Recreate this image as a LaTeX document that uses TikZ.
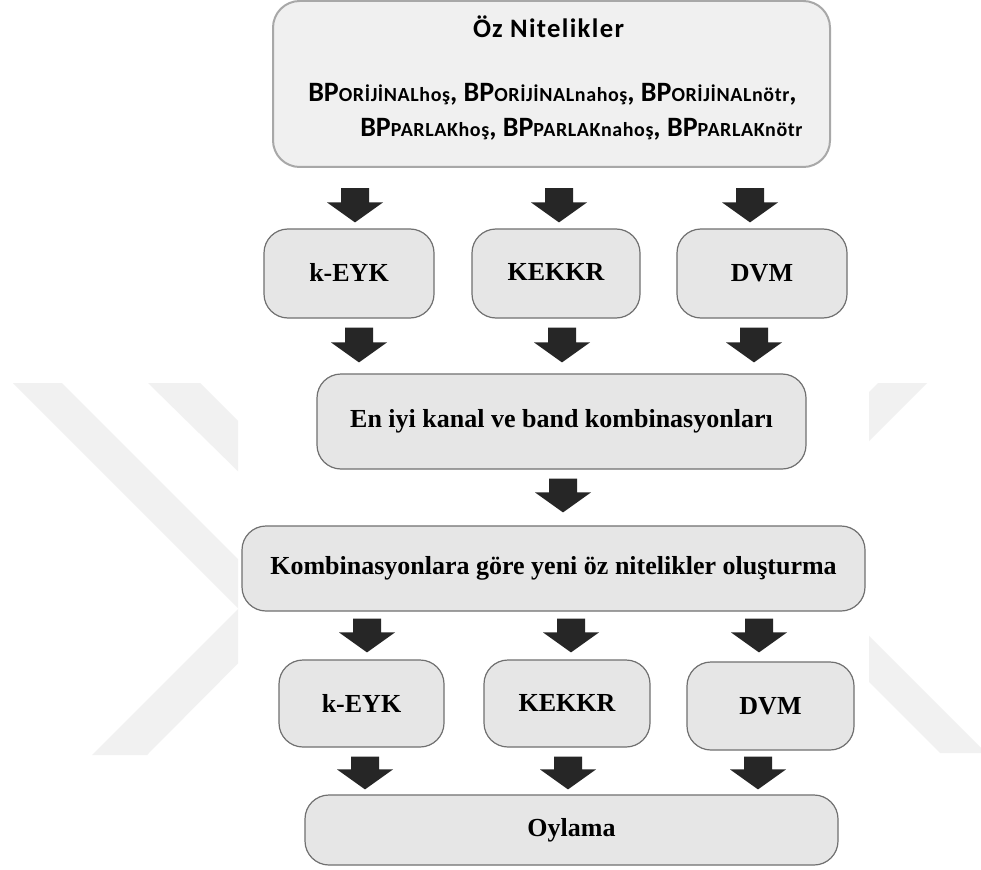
\documentclass[tikz,border=0pt]{standalone}
\usepackage{fontspec}
\setmainfont{Liberation Serif}
\newfontfamily\titlefont{Carlito}[LetterSpace=5]
\newfontfamily\bpfont{Carlito}
\newfontfamily\subfont{Carlito}[LetterSpace=3]
\usetikzlibrary{calc}

\definecolor{boxfill}{HTML}{E6E6E6}
\definecolor{boxline}{HTML}{707070}
\definecolor{topfill}{HTML}{F0F0F0}
\definecolor{topline}{HTML}{A8A8A8}
\definecolor{arrowc}{HTML}{262626}
\definecolor{wmark}{HTML}{F1F1F1}

% feature label: large bold "BP" followed by a small qualifier
\newcommand\featname[1]{{\bpfont\bfseries\fontsize{21}{24}\selectfont BP}{\subfont\fontsize{15}{18}\selectfont #1}}
\newcommand\featsep{{\bpfont\bfseries\fontsize{21}{24}\selectfont ,}}

\begin{document}
\begin{tikzpicture}[x=0.75pt,y=-0.75pt,
  stage/.style={draw=boxline, fill=boxfill, line width=0.9pt, rounded corners=18pt,
    inner sep=0pt, font=\bfseries\fontsize{19.5}{23}\selectfont},
  topstage/.style={draw=topline, fill=topfill, line width=1.5pt, rounded corners=20pt, inner sep=0pt},
  blk/.style={fill=arrowc, to path={
    ($(\tikztostart)+(-14,0)$) -- ($(\tikztostart)+(14,0)$) --
    ($(\tikztotarget)+(14,-20)$) -- ($(\tikztotarget)+(28,-20)$) -- (\tikztotarget) --
    ($(\tikztotarget)+(-28,-20)$) -- ($(\tikztotarget)+(-14,-20)$) -- cycle}}
]
\useasboundingbox (0,0) rectangle (981,870);
\fill[white] (0,0) rectangle (981,870);

% faint background emblem in the side margins
\begin{scope}
  \clip (0,0) rectangle (238,870);
  \fill[wmark] (13,383) -- (62,383) -- (290,611) -- (147,755) -- (92,755) -- (238.5,608.5) -- cycle;
  \fill[wmark] (148,383) -- (200,383) -- (400,583) -- (352,583) -- cycle;
\end{scope}
\begin{scope}
  \clip (869,0) rectangle (981,870);
  \fill[wmark] (878,383) -- (927,383) -- (800,510) -- (751,510) -- cycle;
  \fill[wmark] (787,600) -- (833,600) -- (986,753) -- (940,753) -- cycle;
\end{scope}

% stages
\node[topstage, minimum width=417.75pt, minimum height=124.5pt] (top) at (551.5,84) {};
\node[anchor=base, inner sep=0pt, font=\titlefont\bfseries\fontsize{20}{24}\selectfont] (title) at (548.5,38) {Öz Nitelikler};
\node[anchor=base west, inner sep=0pt, font=\bpfont\bfseries\fontsize{21}{24}\selectfont] (feat1) at (308,102)
  {\featname{ORİJİNALhoş}\featsep\ \featname{ORİJİNALnahoş}\featsep\ \featname{ORİJİNALnötr}\featsep};
\node[anchor=base west, inner sep=0pt, font=\bpfont\bfseries\fontsize{21}{24}\selectfont] (feat2) at (360,137)
  {\featname{PARLAKhoş}\featsep\ \featname{PARLAKnahoş}\featsep\ \featname{PARLAKnötr}};

\node[stage, minimum width=127.5pt, minimum height=66.75pt] (k1) at (349,273.5) {\raisebox{2.25pt}{k-EYK}};
\node[stage, minimum width=126pt,   minimum height=66.75pt] (k2) at (556,273.5) {\raisebox{3pt}{KEKKR}};
\node[stage, minimum width=127.5pt, minimum height=66.75pt] (k3) at (762,273.5) {\raisebox{1.5pt}{DVM}};

\node[stage, minimum width=366.75pt, minimum height=71.25pt] (mid) at (561.5,421.5) {En iyi kanal ve band kombinasyonları};
\node[stage, minimum width=467.25pt, minimum height=63.75pt] (komb) at (553.5,568.5) {Kombinasyonlara göre yeni öz nitelikler oluşturma};

\node[stage, minimum width=123.75pt, minimum height=65.25pt] (r1) at (361.5,703.5) {k-EYK};
\node[stage, minimum width=124.5pt,  minimum height=65.25pt] (r2) at (567,703.5) {\raisebox{1.5pt}{KEKKR}};
\node[stage, minimum width=125.25pt, minimum height=66pt]    (r3) at (770.5,706) {DVM};

\node[stage, minimum width=399.75pt, minimum height=52.5pt] (oy) at (571.5,830) {Oylama};

% arrow columns
\coordinate (xa1) at (355,0); \coordinate (xa2) at (559,0); \coordinate (xa3) at (750,0);
\coordinate (xb1) at (359,0); \coordinate (xb2) at (562,0); \coordinate (xb3) at (754,0);
\coordinate (xc)  at (563,0);
\coordinate (xd1) at (367,0); \coordinate (xd2) at (571,0); \coordinate (xd3) at (759,0);
\coordinate (xe1) at (365,0); \coordinate (xe2) at (568,0); \coordinate (xe3) at (758,0);

% block arrows
\path[blk] ($(top.south -| xa1)+(0,20)$) to ($(k1.north -| xa1)+(0,-6)$);
\path[blk] ($(top.south -| xa2)+(0,20)$) to ($(k2.north -| xa2)+(0,-6)$);
\path[blk] ($(top.south -| xa3)+(0,20)$) to ($(k3.north -| xa3)+(0,-6)$);

\path[blk] ($(k1.south -| xb1)+(0,9)$) to ($(mid.north -| xb1)+(0,-11)$);
\path[blk] ($(k2.south -| xb2)+(0,9)$) to ($(mid.north -| xb2)+(0,-11)$);
\path[blk] ($(k3.south -| xb3)+(0,9)$) to ($(mid.north -| xb3)+(0,-11)$);

\path[blk] ($(mid.south -| xc)+(0,9)$) to ($(komb.north -| xc)+(0,-13)$);

\path[blk] ($(komb.south -| xd1)+(0,7)$) to ($(r1.north -| xd1)+(0,-7)$);
\path[blk] ($(komb.south -| xd2)+(0,7)$) to ($(r2.north -| xd2)+(0,-7)$);
\path[blk] ($(komb.south -| xd3)+(0,7)$) to ($(r3.north -| xd3)+(0,-9)$);

\path[blk] ($(r1.south -| xe1)+(0,9)$) to ($(oy.north -| xe1)+(0,-5)$);
\path[blk] ($(r2.south -| xe2)+(0,9)$) to ($(oy.north -| xe2)+(0,-5)$);
\path[blk] ($(r3.south -| xe3)+(0,6)$) to ($(oy.north -| xe3)+(0,-5)$);
\end{tikzpicture}
\end{document}
